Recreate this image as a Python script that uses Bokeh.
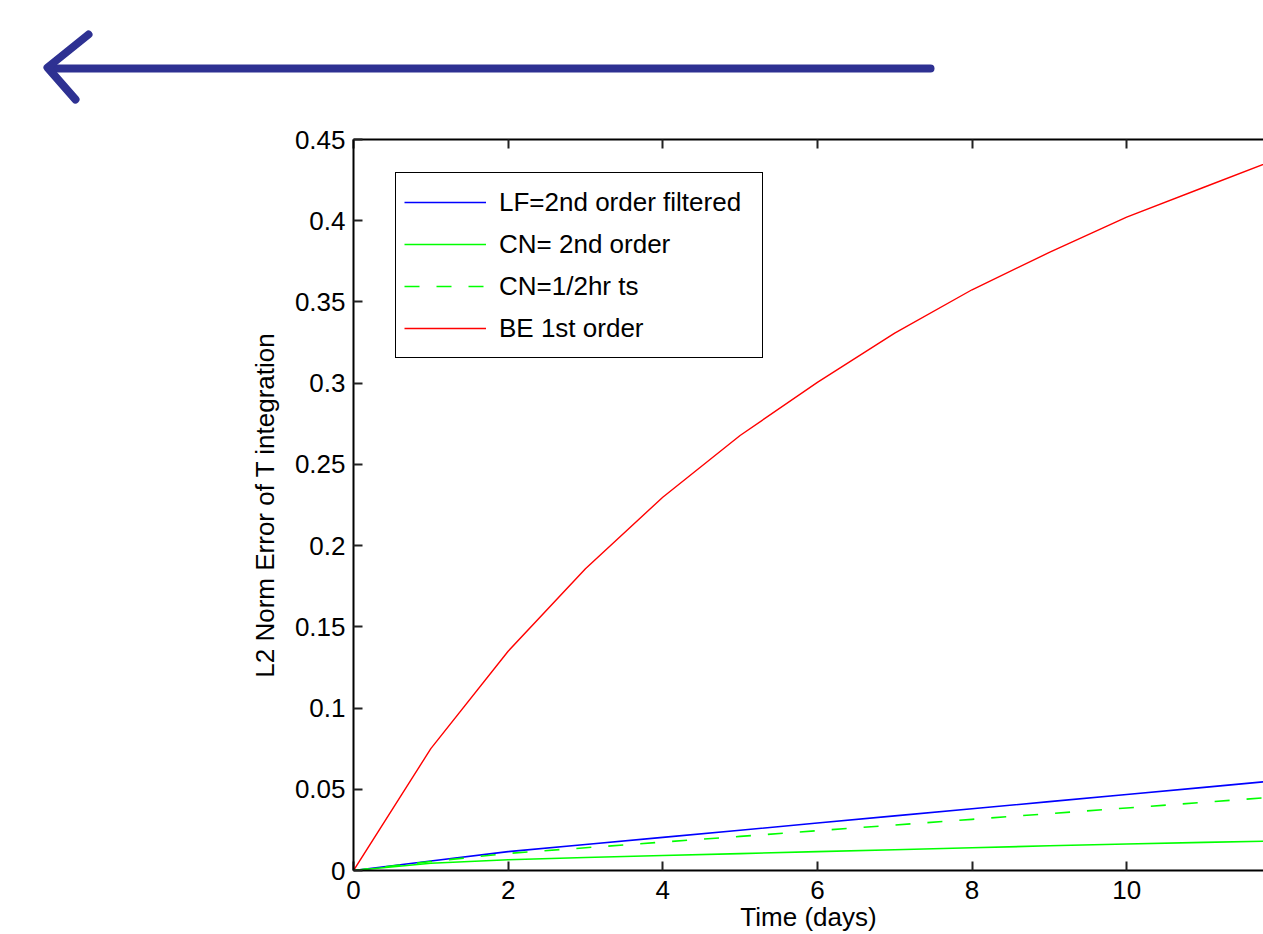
from bokeh.plotting import figure
from bokeh.models import Range1d, FixedTicker, LinearAxis, Legend, LegendItem
from bokeh.embed import file_html
from bokeh.resources import INLINE

# ---- data ----
days = [0, 1, 2, 3, 4, 5, 6, 7, 8, 9, 10, 11, 12]
lf_filtered = [0, 0.0058, 0.0116, 0.0160, 0.0204, 0.0248, 0.0292, 0.0336, 0.0380, 0.0424, 0.0468, 0.0512, 0.0556]
cn_2nd = [0, 0.0045, 0.0066, 0.0080, 0.0092, 0.0104, 0.0116, 0.0128, 0.0140, 0.0152, 0.0163, 0.0173, 0.0182]
cn_half_hr = [0, 0.0055, 0.0105, 0.0140, 0.0175, 0.0210, 0.0245, 0.0280, 0.0315, 0.0350, 0.0385, 0.0420, 0.0455]
be_1st = [0, 0.0750, 0.1350, 0.1857, 0.2298, 0.2678, 0.3005, 0.3308, 0.3575, 0.3805, 0.4022, 0.4206, 0.4390]

x_ticks = [0, 2, 4, 6, 8, 10, 12]
x_tick_labels = ["0", "2", "4", "6", "8", "10", "12"]
y_ticks = [0, 0.05, 0.1, 0.15, 0.2, 0.25, 0.3, 0.35, 0.4, 0.45]
y_tick_labels = ["0", "0.05", "0.1", "0.15", "0.2", "0.25", "0.3", "0.35", "0.4", "0.45"]

legend_labels = ["LF=2nd order filtered", "CN= 2nd order", "CN=1/2hr ts", "BE 1st order"]

# decorative arrow (pixel space of the header strip): shaft and the two head strokes
arrow_shaft_x = [930, 50]
arrow_shaft_y = [68, 68]
arrow_head_x = [88, 47, 75]
arrow_head_y = [34, 67, 99]

FONT = "Liberation Sans"
FS = "26px"
W = 1263
HEAD_H = 108
MAIN_H = 934 - HEAD_H

# ---- header strip holding the arrow ----
head = figure(width=W, height=HEAD_H, output_backend="svg", toolbar_location=None,
              x_range=Range1d(0, W), y_range=Range1d(HEAD_H, 0),
              min_border=0, min_border_left=0, min_border_right=0,
              min_border_top=0, min_border_bottom=0)
head.axis.visible = False
head.grid.visible = False
head.outline_line_color = None
ARROW_C = "#2E3192"
head.line(arrow_shaft_x, arrow_shaft_y, line_color=ARROW_C, line_width=8, line_cap="round")
head.line(arrow_head_x, arrow_head_y, line_color=ARROW_C, line_width=8, line_cap="round",
          line_join="round")

# ---- main chart ----
p = figure(width=W, height=MAIN_H, output_backend="svg", toolbar_location=None,
           x_range=Range1d(0, 11.77), y_range=Range1d(0, 0.45),
           min_border_left=353, min_border_right=0, min_border_top=139 - HEAD_H,
           min_border_bottom=64,
           x_axis_label="Time (days)", y_axis_label="L2 Norm Error of T integration")
p.outline_line_color = None
p.xgrid.visible = False
p.ygrid.visible = False

for ax, ticks, labels in ((p.xaxis[0], x_ticks, x_tick_labels), (p.yaxis[0], y_ticks, y_tick_labels)):
    ax.ticker = FixedTicker(ticks=ticks)
    ax.major_label_overrides = {t: l for t, l in zip(ticks, labels)}
    ax.major_tick_in = 9
    ax.major_tick_out = 0
    ax.minor_tick_line_color = None
    ax.axis_line_width = 2
    ax.major_tick_line_width = 2
    ax.axis_line_color = "black"
    ax.major_tick_line_color = "#222222"
    ax.major_label_text_font = FONT
    ax.major_label_text_font_size = FS
    ax.major_label_text_color = "black"
    ax.axis_label_text_font = FONT
    ax.axis_label_text_font_size = FS
    ax.axis_label_text_font_style = "normal"
    ax.axis_label_text_color = "black"

p.xaxis[0].major_label_standoff = 10
p.xaxis[0].axis_label_standoff = 0
p.yaxis[0].major_label_standoff = 8
p.yaxis[0].axis_label_standoff = 12

top = LinearAxis(ticker=FixedTicker(ticks=x_ticks), major_tick_in=9, major_tick_out=0,
                 minor_tick_line_color=None, axis_line_width=2, major_tick_line_width=2,
                 major_tick_line_color="#222222", major_label_text_color=None,
                 major_label_standoff=0, major_label_text_font_size="8px")
p.add_layout(top, "above")

r_lf = p.line(days, lf_filtered, line_color="#0000FF", line_width=1.6)
r_cn = p.line(days, cn_2nd, line_color="#00FF00", line_width=1.6)
r_cnh = p.line(days, cn_half_hr, line_color="#00FF00", line_width=1.6, line_dash="15 17")
r_be = p.line(days, be_1st, line_color="#FF0000", line_width=1.4)

legend = Legend(items=[LegendItem(label=legend_labels[0], renderers=[r_lf]),
                       LegendItem(label=legend_labels[1], renderers=[r_cn]),
                       LegendItem(label=legend_labels[2], renderers=[r_cnh]),
                       LegendItem(label=legend_labels[3], renderers=[r_be])],
                location=(42, 512), padding=8, spacing=0,
                glyph_width=82, glyph_height=42, label_height=42, label_width=255,
                label_standoff=13, label_text_font=FONT, label_text_font_size=FS,
                label_text_color="black",
                border_line_color="black", border_line_width=1.5, border_line_alpha=1.0,
                background_fill_color="white", background_fill_alpha=1.0, margin=0)
p.add_layout(legend, "center")

open("out.html", "w").write(file_html([head, p], INLINE))
